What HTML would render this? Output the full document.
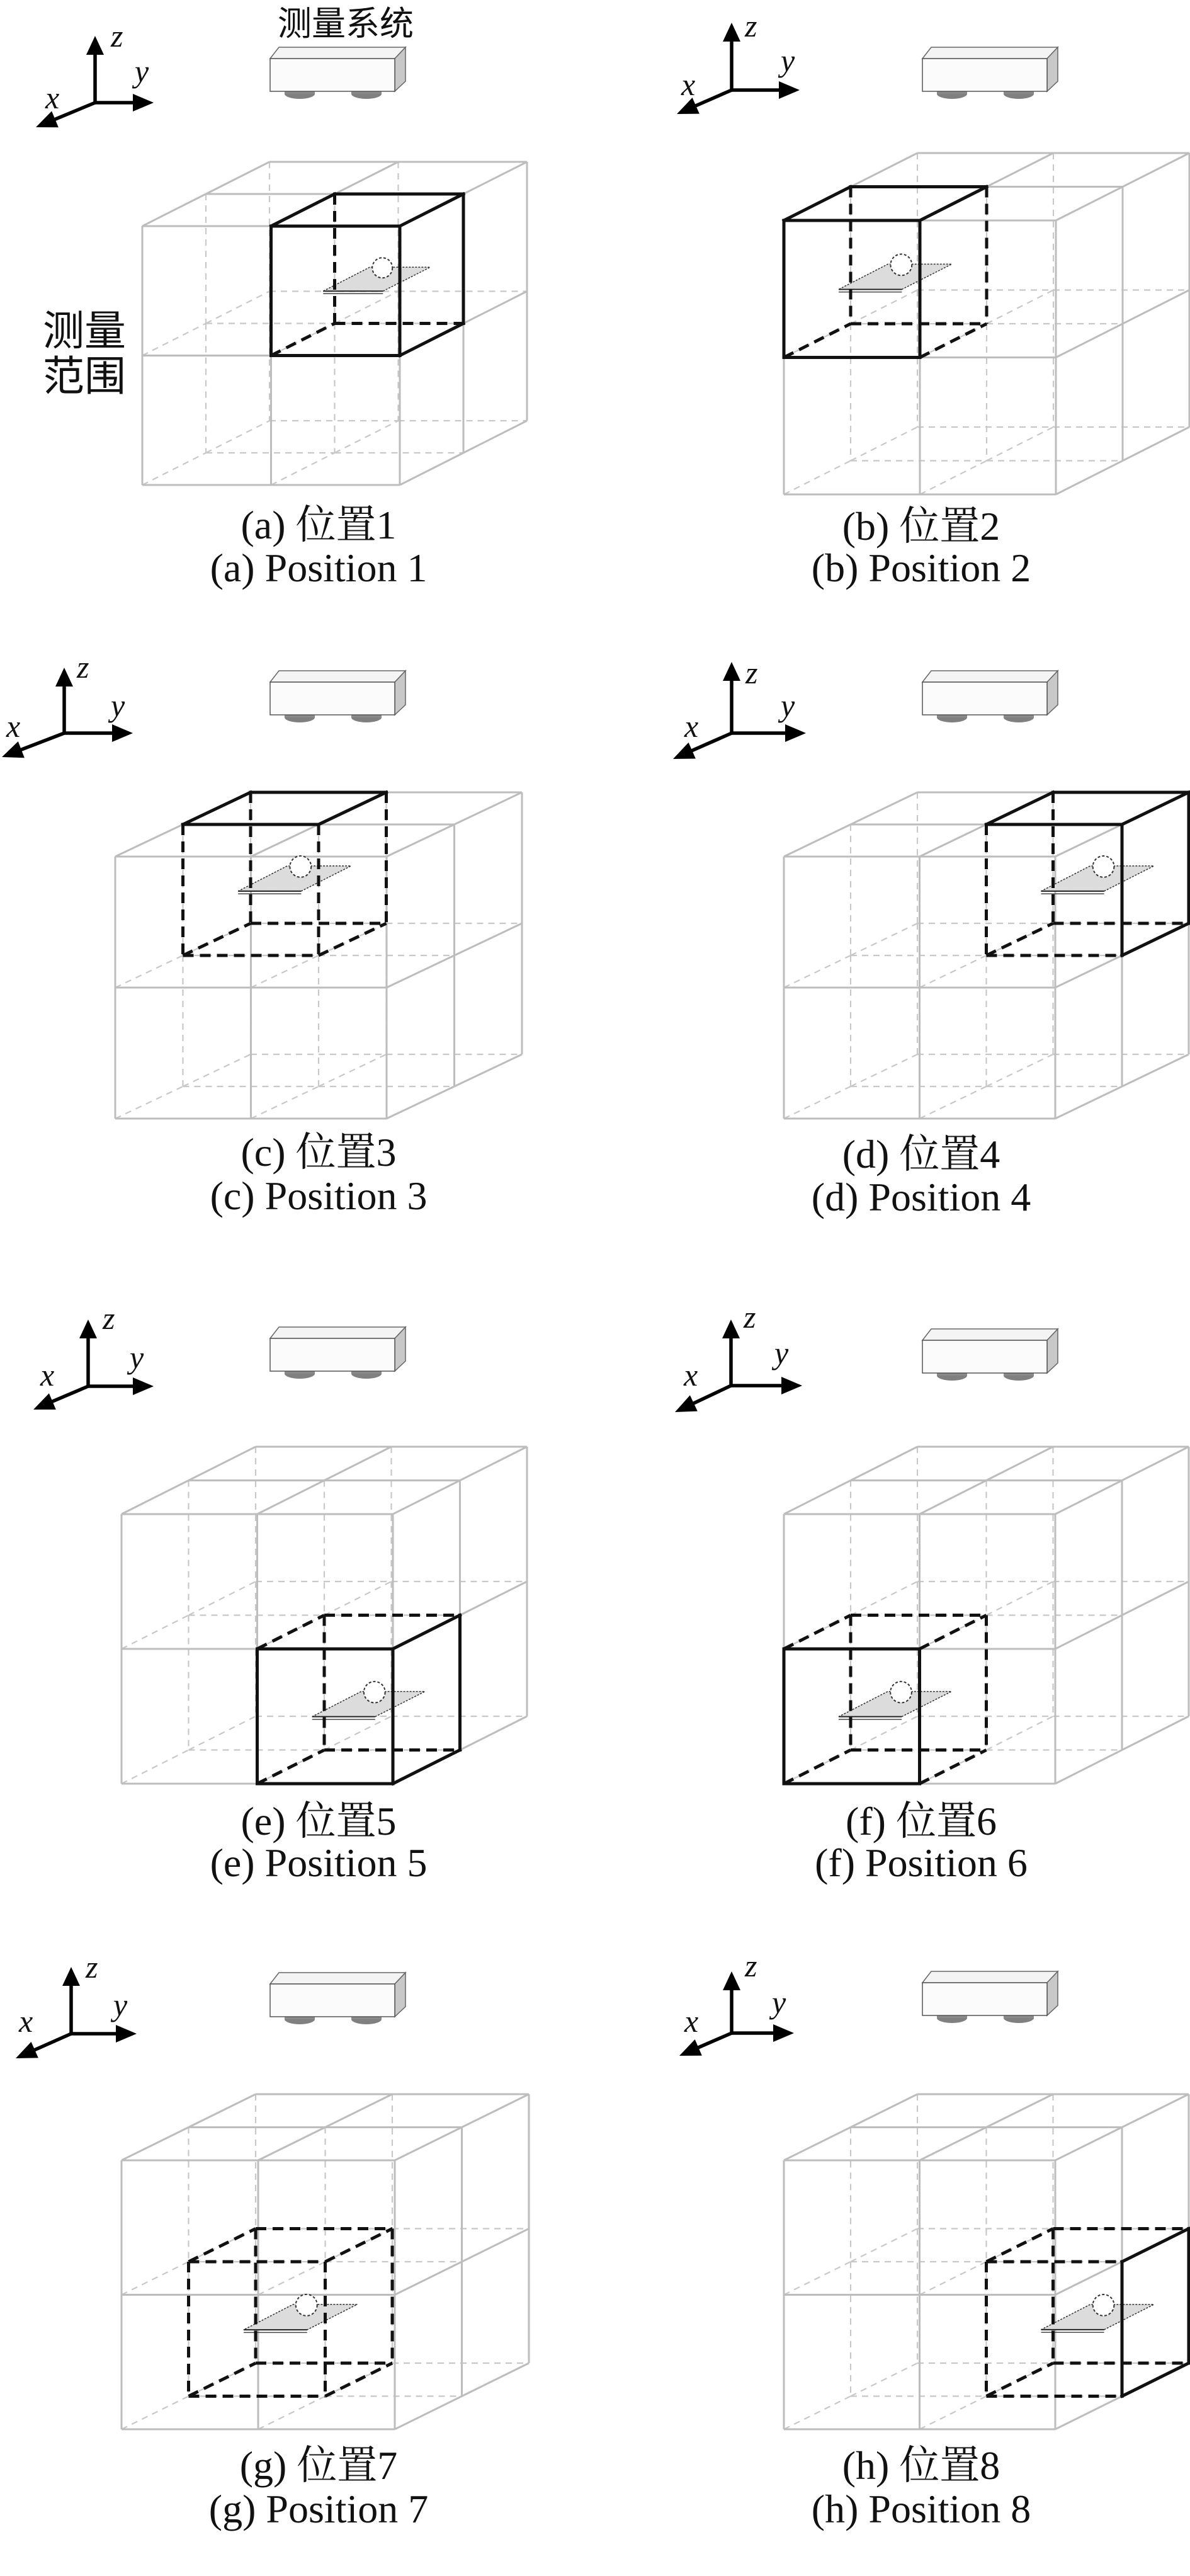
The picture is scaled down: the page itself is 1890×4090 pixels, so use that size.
<!DOCTYPE html>
<html><head><meta charset="utf-8">
<style>
html,body{margin:0;padding:0;background:#fff;}
svg{display:block;}
.cap{font-family:"Liberation Serif","Noto Serif CJK SC",serif;font-size:64px;fill:#111;text-anchor:middle;}
.ax{font-family:"Liberation Serif",serif;font-style:italic;font-size:50px;fill:#111;}
.cn{font-family:"Liberation Sans","Noto Sans CJK SC",sans-serif;fill:#111;}
</style></head>
<body>
<svg id="s" width="1890" height="4090" viewBox="0 0 1890 4090" xmlns="http://www.w3.org/2000/svg">
<rect width="1890" height="4090" fill="#fff"/>
<g id="geo"></g>
<text class="cn" x="549" y="56" font-size="54" text-anchor="middle">测量系统</text>
<text class="cn" x="134" y="548" font-size="66" text-anchor="middle">测量</text>
<text class="cn" x="134" y="620" font-size="66" text-anchor="middle">范围</text>

<text class="cap" x="506" y="855">(a) 位置1</text>
<text class="cap" x="506" y="923">(a) Position 1</text>
<text class="cap" x="1463" y="857">(b) 位置2</text>
<text class="cap" x="1463" y="923">(b) Position 2</text>
<text class="cap" x="506" y="1851">(c) 位置3</text>
<text class="cap" x="506" y="1920">(c) Position 3</text>
<text class="cap" x="1463" y="1854">(d) 位置4</text>
<text class="cap" x="1463" y="1922">(d) Position 4</text>
<text class="cap" x="506" y="2913">(e) 位置5</text>
<text class="cap" x="506" y="2979">(e) Position 5</text>
<text class="cap" x="1463" y="2913">(f) 位置6</text>
<text class="cap" x="1463" y="2979">(f) Position 6</text>
<text class="cap" x="506" y="3936">(g) 位置7</text>
<text class="cap" x="506" y="4005">(g) Position 7</text>
<text class="cap" x="1463" y="3936">(h) 位置8</text>
<text class="cap" x="1463" y="4005">(h) Position 8</text>

<text class="ax" x="176" y="74">z</text><text class="ax" x="214" y="130">y</text><text class="ax" x="72" y="172">x</text>
<text class="ax" x="1183" y="58">z</text><text class="ax" x="1240" y="113">y</text><text class="ax" x="1082" y="151">x</text>
<text class="ax" x="122" y="1076">z</text><text class="ax" x="176" y="1137">y</text><text class="ax" x="10" y="1170">x</text>
<text class="ax" x="1184" y="1085">z</text><text class="ax" x="1240" y="1137">y</text><text class="ax" x="1087" y="1170">x</text>
<text class="ax" x="163" y="2110">z</text><text class="ax" x="206" y="2172">y</text><text class="ax" x="64" y="2200">x</text>
<text class="ax" x="1181" y="2108">z</text><text class="ax" x="1230" y="2165">y</text><text class="ax" x="1086" y="2200">x</text>
<text class="ax" x="136" y="3140">z</text><text class="ax" x="180" y="3200">y</text><text class="ax" x="30" y="3226">x</text>
<text class="ax" x="1183" y="3138">z</text><text class="ax" x="1226" y="3196">y</text><text class="ax" x="1087" y="3226">x</text>
</svg>
<script>
(function(){
var NS="http://www.w3.org/2000/svg",g=document.getElementById("geo");
function el(t,a){var e=document.createElementNS(NS,t);for(var k in a)e.setAttribute(k,a[k]);g.appendChild(e);return e;}
var P=[
{F:[226,359],W:409,H:411,D:[202,-102],hl:[1,0,0],ax:[151,163,57,244,57,202],sn:[429,93]},
{F:[1245,350],W:432,H:435,D:[212,-107],hl:[0,0,0],ax:[1162,143,36,1270,1075,181],sn:[1465,93]},
{F:[183,1360],W:431,H:416,D:[215,-102],hl:[0,0,1],ax:[102,1164,1060,211,3,1202],sn:[429,1083]},
{F:[1245,1360],W:431,H:416,D:[212,-102],hl:[1,0,1],ax:[1162,1164,1051,1280,1069,1205],sn:[1465,1083]},
{F:[193,2404],W:431,H:428,D:[213,-107],hl:[1,1,0],ax:[140,2201,2095,244,53,2238],sn:[429,2125]},
{F:[1245,2404],W:431,H:428,D:[212,-107],hl:[0,1,0],ax:[1161,2200,2095,1274,1072,2242],sn:[1465,2128]},
{F:[193,3430],W:434,H:427,D:[213,-105],hl:[0,1,1],ax:[113,3229,3123,217,25,3268],sn:[429,3150]},
{F:[1245,3430],W:431,H:427,D:[212,-105],hl:[1,1,1],ax:[1162,3228,3130,1261,1079,3264],sn:[1465,3148]}
];
P.forEach(function(p){
 function pt(i,j,k){return [p.F[0]+i*p.W/2+k*p.D[0]/2, p.F[1]+j*p.H/2+k*p.D[1]/2];}
 function vis(a,b){return (a[2]==0&&b[2]==0)||(a[1]==0&&b[1]==0)||(a[0]==2&&b[0]==2);}
 function line(a,b,st){var A=pt(a[0],a[1],a[2]),B=pt(b[0],b[1],b[2]);var o={x1:A[0],y1:A[1],x2:B[0],y2:B[1]};for(var k in st)o[k]=st[k];el("line",o);}
 var dashed=[],solid=[];
 for(var i=0;i<3;i++)for(var j=0;j<3;j++)for(var k=0;k<3;k++){
  var a=[i,j,k];
  [[1,0,0],[0,1,0],[0,0,1]].forEach(function(d){
   var b=[i+d[0],j+d[1],k+d[2]];if(b[0]>2||b[1]>2||b[2]>2)return;
   (vis(a,b)?solid:dashed).push([a,b]);
  });
 }
 dashed.forEach(function(e){line(e[0],e[1],{stroke:"#c8c8c8","stroke-width":2.2,"stroke-dasharray":"10,8"});});
 solid.forEach(function(e){line(e[0],e[1],{stroke:"#bdbdbd","stroke-width":3});});
 var h=p.hl,s=p.W/409;
 var c=pt(h[0]+0.5,h[1]+0.5,h[2]+0.5);
 function q(dx,dy){return (c[0]+dx*s)+","+(c[1]+dy*s);}
 el("polygon",{points:[q(-70,26),q(25,26),q(100,-12),q(4,-12)].join(" "),fill:"#dcdcdc",stroke:"#333","stroke-width":1.5,"stroke-dasharray":"3,2"});
 el("line",{x1:c[0]-70*s,y1:c[1]+26*s,x2:c[0]+25*s,y2:c[1]+26*s,stroke:"#222","stroke-width":2});
 el("line",{x1:c[0]-70*s,y1:c[1]+30*s,x2:c[0]+25*s,y2:c[1]+30*s,stroke:"#444","stroke-width":1.5});
 el("circle",{cx:c[0]+24*s,cy:c[1]-11*s,r:16*s,fill:"#fff",stroke:"#333","stroke-width":2,"stroke-dasharray":"4,3"});
 var ds=[],ss=[];
 for(var a1=0;a1<2;a1++)for(var b1=0;b1<2;b1++)for(var c1=0;c1<2;c1++){
  var A=[h[0]+a1,h[1]+b1,h[2]+c1];
  [[1,0,0],[0,1,0],[0,0,1]].forEach(function(d,n){
   if([a1,b1,c1][n]==1)return;
   var B=[A[0]+d[0],A[1]+d[1],A[2]+d[2]];
   (vis(A,B)?ss:ds).push([A,B]);
  });
 }
 ds.forEach(function(e){line(e[0],e[1],{stroke:"#111","stroke-width":5,"stroke-dasharray":"17,10"});});
 ss.forEach(function(e){line(e[0],e[1],{stroke:"#111","stroke-width":5,"stroke-linecap":"square"});});
 var x=p.ax;
 var ox=x[0],oy=x[1];
 el("line",{x1:ox,y1:oy,x2:ox,y2:x[2]+25,stroke:"#000","stroke-width":5.5});
 el("polygon",{points:ox+","+x[2]+" "+(ox-14)+","+(x[2]+30)+" "+(ox+14)+","+(x[2]+30),fill:"#000"});
 el("line",{x1:ox,y1:oy,x2:x[3]-25,y2:oy,stroke:"#000","stroke-width":5.5});
 el("polygon",{points:x[3]+","+oy+" "+(x[3]-33)+","+(oy-14)+" "+(x[3]-33)+","+(oy+14),fill:"#000"});
 var tx=x[4],ty=x[5],vx=tx-ox,vy=ty-oy,L=Math.sqrt(vx*vx+vy*vy),ux=vx/L,uy=vy/L,nx=-uy,ny=ux;
 el("line",{x1:ox,y1:oy,x2:tx-ux*25,y2:ty-uy*25,stroke:"#000","stroke-width":5.5});
 el("polygon",{points:tx+","+ty+" "+(tx-ux*33+nx*14)+","+(ty-uy*33+ny*14)+" "+(tx-ux*33-nx*14)+","+(ty-uy*33-ny*14),fill:"#000"});
 var sx=p.sn[0],sy=p.sn[1];
 el("ellipse",{cx:sx+47,cy:sy+56,rx:24,ry:8,fill:"#808080"});
 el("rect",{x:sx+23,y:sy+48,width:48,height:8,fill:"#8a8a8a"});
 el("ellipse",{cx:sx+153,cy:sy+56,rx:24,ry:8,fill:"#808080"});
 el("rect",{x:sx+129,y:sy+48,width:48,height:8,fill:"#8a8a8a"});
 el("polygon",{points:sx+","+sy+" "+(sx+14)+","+(sy-18)+" "+(sx+215)+","+(sy-18)+" "+(sx+198)+","+sy,fill:"#f4f4f4",stroke:"#666","stroke-width":1.5});
 el("polygon",{points:(sx+198)+","+sy+" "+(sx+215)+","+(sy-18)+" "+(sx+215)+","+(sy+36)+" "+(sx+198)+","+(sy+52),fill:"#c8c8c8",stroke:"#666","stroke-width":1.5});
 el("rect",{x:sx,y:sy,width:198,height:52,fill:"#fbfbfb",stroke:"#555","stroke-width":1.5});
});
})();
</script>
</body></html>
